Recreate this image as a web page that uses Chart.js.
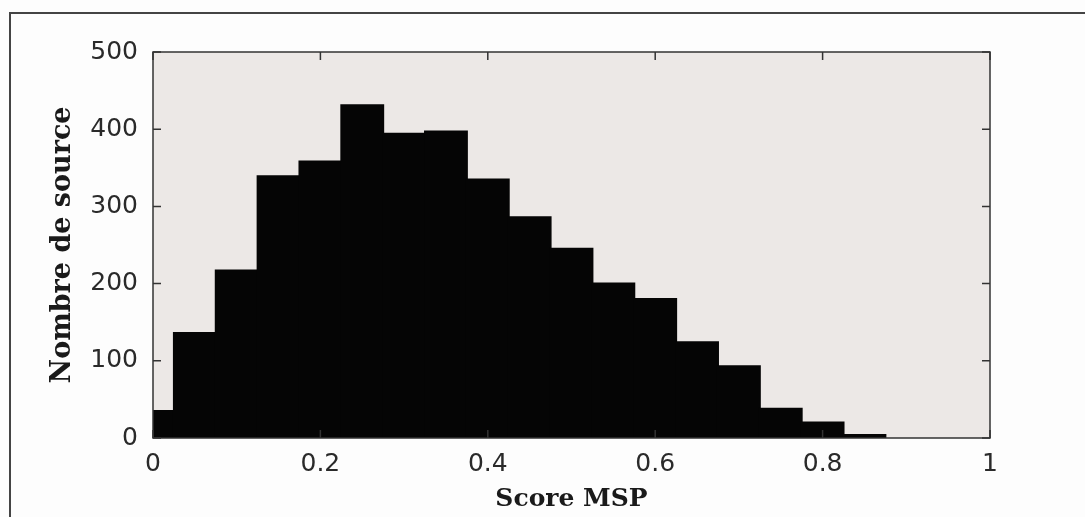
<!DOCTYPE html>
<html>
<head>
<meta charset="utf-8">
<script src="https://cdn.jsdelivr.net/npm/chart.js@4.4.0/dist/chart.umd.min.js"></script>
<style>
  html, body { margin: 0; padding: 0; background: #fdfdfd; }
  #wrap { width: 1085px; height: 517px; position: relative; }
</style>
</head>
<body>
<div id="wrap"><canvas id="c" width="1085" height="517"></canvas></div>
<script>
// Histogram bins (centres) and counts
const binCenters = [0, 0.05, 0.1, 0.15, 0.2, 0.25, 0.3, 0.35, 0.4, 0.45, 0.5, 0.55, 0.6, 0.65, 0.7, 0.75, 0.8, 0.85];
const counts     = [35, 136, 217, 339, 358, 431, 394, 397, 335, 286, 245, 200, 180, 124, 93, 38, 20, 4];
const xTicks = [0, 0.2, 0.4, 0.6, 0.8, 1];
const yTicks = [0, 100, 200, 300, 400, 500];
const xTitle = 'Score MSP';
const yTitle = 'Nombre de source';

const boxPlugin = {
  id: 'boxPlugin',
  beforeDraw(chart) {
    const ctx = chart.ctx;
    const a = chart.chartArea;
    ctx.save();
    // outer figure frame (top and left)
    ctx.strokeStyle = '#444';
    ctx.lineWidth = 2;
    ctx.beginPath();
    ctx.moveTo(1085, 13);
    ctx.lineTo(10, 13);
    ctx.lineTo(10, 517);
    ctx.stroke();
    // plot background
    ctx.fillStyle = '#ece8e6';
    ctx.fillRect(a.left, a.top, a.right - a.left, a.bottom - a.top);
    ctx.restore();
  },
  afterDraw(chart) {
    const ctx = chart.ctx;
    const a = chart.chartArea;
    const xs = chart.scales.x, ys = chart.scales.y;
    const tl = 8;
    ctx.save();
    ctx.strokeStyle = '#333';
    ctx.lineWidth = 1.5;
    ctx.strokeRect(a.left, a.top, a.right - a.left, a.bottom - a.top);
    ctx.beginPath();
    xTicks.forEach(v => {
      const px = xs.getPixelForValue(v);
      ctx.moveTo(px, a.top); ctx.lineTo(px, a.top + tl);
      ctx.moveTo(px, a.bottom); ctx.lineTo(px, a.bottom - tl);
    });
    yTicks.forEach(v => {
      const py = ys.getPixelForValue(v);
      ctx.moveTo(a.left, py); ctx.lineTo(a.left + tl, py);
      ctx.moveTo(a.right, py); ctx.lineTo(a.right - tl, py);
    });
    ctx.stroke();
    ctx.restore();
  }
};

new Chart(document.getElementById('c'), {
  type: 'bar',
  data: {
    datasets: [{
      data: binCenters.map((x, i) => ({ x: x, y: counts[i] })),
      backgroundColor: '#050505',
      borderWidth: 0,
      inflateAmount: 1,
      barPercentage: 1,
      categoryPercentage: 1,
      clip: 0
    }]
  },
  options: {
    responsive: false,
    animation: false,
    events: [],
    layout: { padding: { left: 0, top: 52, right: 95, bottom: 0 } },
    plugins: { legend: { display: false }, tooltip: { enabled: false } },
    scales: {
      x: {
        type: 'linear',
        min: 0, max: 1,
        offset: false,
        grid: { display: false, offset: false },
        border: { display: false },
        afterBuildTicks: s => { s.ticks = xTicks.map(v => ({ value: v })); },
        afterFit: s => { s.height = 79; },
        ticks: {
          autoSkip: false, maxRotation: 0,
          padding: 3,
          color: '#2a2a2a',
          font: { family: 'DejaVu Sans', size: 25 },
          callback: v => String(v)
        },
        title: {
          display: true, text: xTitle, color: '#1a1a1a',
          font: { family: 'DejaVu Serif', size: 25, weight: 'bold' },
          padding: { top: 0, bottom: 3 }
        }
      },
      y: {
        min: 0, max: 500,
        grid: { display: false },
        border: { display: false },
        afterBuildTicks: s => { s.ticks = yTicks.map(v => ({ value: v })); },
        afterFit: s => { s.width = 153; },
        ticks: {
          padding: 7,
          color: '#2a2a2a',
          font: { family: 'DejaVu Sans', size: 25 }
        },
        title: {
          display: true, text: yTitle, color: '#1a1a1a',
          font: { family: 'DejaVu Serif', size: 27, weight: 'bold' },
          padding: { top: 47, bottom: 0 }
        }
      }
    }
  },
  plugins: [boxPlugin]
});
</script>
</body>
</html>
